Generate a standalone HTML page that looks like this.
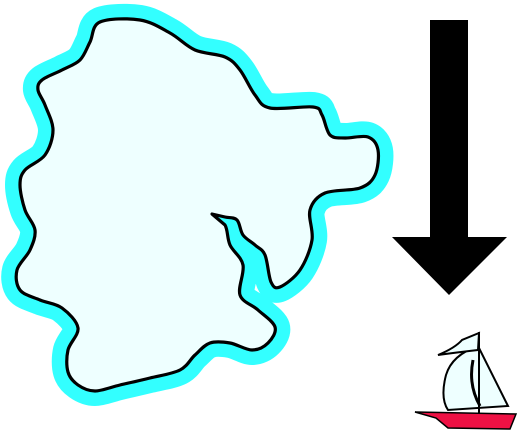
<!DOCTYPE html>
<html><head><meta charset="utf-8"><style>html,body{margin:0;padding:0;background:#fff}svg{display:block}</style></head>
<body>
<svg width="518" height="434" viewBox="0 0 518 434">
<path id="halo" fill="#33ffff" stroke="#33ffff" stroke-width="30" stroke-linejoin="round"/>
<path id="land" fill="#eeffff" stroke="#000" stroke-width="3.2" stroke-linejoin="round"/>
<polygon fill="#000" points="430,20 468,20 468,237 507,237 449,295 392,237 430,237"/>
<g>
<polygon points="415,412 516,414 510,429 448,428 436,418" fill="#ee1144" stroke="#000" stroke-width="1.5"/>
<path d="M478,346 Q452,355 446,375 Q440,398 448,410 L508,406 Z" fill="#eeffff" stroke="#000" stroke-width="2"/>
<path d="M438,355 Q455,348 462,340 L479,333 L478,350 Q460,352 438,355Z" fill="#eeffff" stroke="#000" stroke-width="2"/>
<line x1="479" y1="332" x2="479" y2="413" stroke="#000" stroke-width="2"/>
<path d="M473,360 Q468,385 480,406" fill="none" stroke="#000" stroke-width="3"/>
</g>
</svg>
<script>
const pts=[[100,22],[140,20],[170,33],[195,50],[225,57],[240,70],[255,95],[270,108],[313,107],[322,115],[330,135],[345,138],[368,137],[378,150],[375,175],[360,188],[325,193],[310,210],[312,240],[300,270],[280,287],[271,282],[265,255],[255,245],[243,235],[237,220],[225,217],[212,214],[225,225],[230,245],[243,265],[240,295],[258,310],[275,327],[268,343],[252,350],[230,343],[210,343],[195,355],[180,370],[150,378],[120,385],[95,391],[78,385],[68,372],[68,350],[78,328],[62,308],[40,300],[20,290],[17,270],[30,250],[35,230],[25,210],[20,185],[25,170],[45,155],[53,130],[45,105],[38,90],[42,80],[62,70],[80,60],[90,42]];
function smooth(p){const n=p.length;let d=`M${p[0][0]},${p[0][1]}`;for(let i=0;i<n;i++){const a=p[(i-1+n)%n],b=p[i],c=p[(i+1)%n],e=p[(i+2)%n];const t=(i===26||i===27)?0:1/6;d+=` C${b[0]+(c[0]-a[0])*t},${b[1]+(c[1]-a[1])*t} ${c[0]-(e[0]-b[0])*t},${c[1]-(e[1]-b[1])*t} ${c[0]},${c[1]}`;}return d+'Z';}
const d=smooth(pts);
document.getElementById('halo').setAttribute('d',d);
document.getElementById('land').setAttribute('d',d);
</script>
</body></html>
